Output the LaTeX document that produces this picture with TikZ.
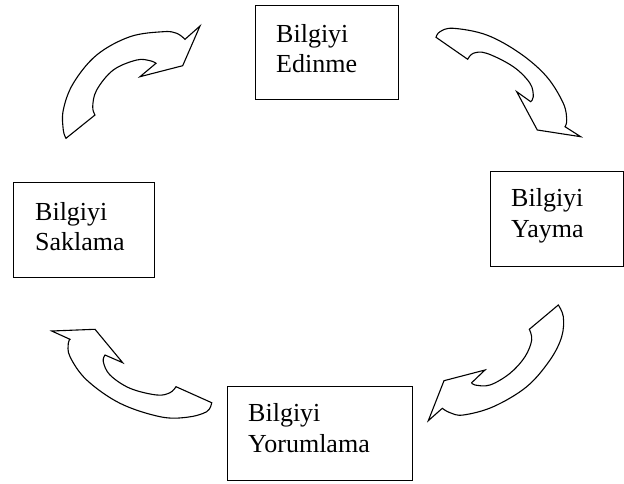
\documentclass[tikz,border=0pt]{standalone}
\usepackage{fontspec}
\setmainfont{Liberation Serif}
\begin{document}
\begin{tikzpicture}[x=1pt,y=-1pt,
  box/.style={draw, line width=1.3pt, rectangle, anchor=north west, inner sep=0pt},
  lbl/.style={anchor=base west, inner sep=0pt, font=\fontsize{26}{30}\selectfont},
  curvarrow/.style={draw, line width=1.1pt, line join=miter, fill=white}]
\useasboundingbox (0,0) rectangle (624,484);

% boxes
\node[box, minimum width=143pt, minimum height=94pt] (edin) at (255,5) {};
\node[box, minimum width=133pt, minimum height=95pt] (yay) at (490,171) {};
\node[box, minimum width=185pt, minimum height=94pt] (yor) at (227,386) {};
\node[box, minimum width=141pt, minimum height=95pt] (sak) at (13,182) {};

% labels
\node[lbl] (edin1) at (276,43) {Bilgiyi};
\node[lbl] (edin2) at (276,73) {Edinme};
\node[lbl] (yay1) at (511,207) {Bilgiyi};
\node[lbl] (yay2) at (511,237) {Yayma};
\node[lbl] (yor1) at (248,421) {Bilgiyi};
\node[lbl] (yor2) at (248,452) {Yorumlama};
\node[lbl] (sak1) at (35,220) {Bilgiyi};
\node[lbl] (sak2) at (35,250) {Saklama};

% curved block arrows
% Saklama -> Edinme
\path[curvarrow] (66,138.3)
  -- plot[smooth, tension=0.6] coordinates {(66,138.3) (63.3,130) (63.3,110) (73.3,83.3) (96.7,55) (130,36.7) (163.3,31.7) (176.7,33.3) (185,39.3)}
  -- (200,26) -- (182.7,65.7) -- (140,76.7) -- (156,63.3)
  -- plot[smooth, tension=0.6] coordinates {(156,63.3) (150,60.7) (136.7,60) (113.3,70) (96.7,90) (92.7,106.7) (95,115)}
  -- cycle;

% Edinme -> Yayma
\path[curvarrow] (467.7,59.3) -- (436,37.3)
  -- plot[smooth, tension=0.6] coordinates {(436,37.3) (440,31.7) (453.3,28.3) (486.7,35) (520,53.3) (546.7,76.7) (563.3,103.3) (566.7,120) (565,126.7)}
  -- (580.7,136.7) -- (537.3,130) -- (516.7,91.7) -- (530.7,101.7)
  -- plot[smooth, tension=0.6] coordinates {(530.7,101.7) (533.3,96.7) (530,83.3) (513.3,66.7) (486.7,53.3) (473.3,53.3) (467.7,59.3)}
  -- cycle;

% Yayma -> Yorumlama
\path[curvarrow] (529.3,329.3) -- (558.3,305)
  -- plot[smooth, tension=0.6] coordinates {(558.3,305) (563.3,316.7) (561.7,336.7) (550,360) (526.7,386.7) (493.3,406.7) (463.3,415) (450,412.7) (442.3,408.3)}
  -- (428.3,420.7) -- (444,380.7) -- (485,370) -- (471.7,382.7)
  -- plot[smooth, tension=0.6] coordinates {(471.7,382.7) (475,385) (490,385) (510,373.3) (525,356.7) (531.7,340) (529.3,329.3)}
  -- cycle;

% Yorumlama -> Saklama
\path[curvarrow] (176,386.7) -- (211.7,402.7)
  -- plot[smooth, tension=0.6] coordinates {(211.7,402.7) (206.7,411.7) (186.7,417.3) (160,416.7) (120,403.3) (86.7,380) (70,356.7) (68.3,343.3) (70,339.3)}
  -- (51.7,331) -- (95,329.3) -- (122.7,362.7) -- (105,355)
  -- plot[smooth, tension=0.6] coordinates {(105,355) (103.3,361.7) (110,375) (130,388.3) (156.7,395) (170,392.7) (176,386.7)}
  -- cycle;
\end{tikzpicture}
\end{document}
